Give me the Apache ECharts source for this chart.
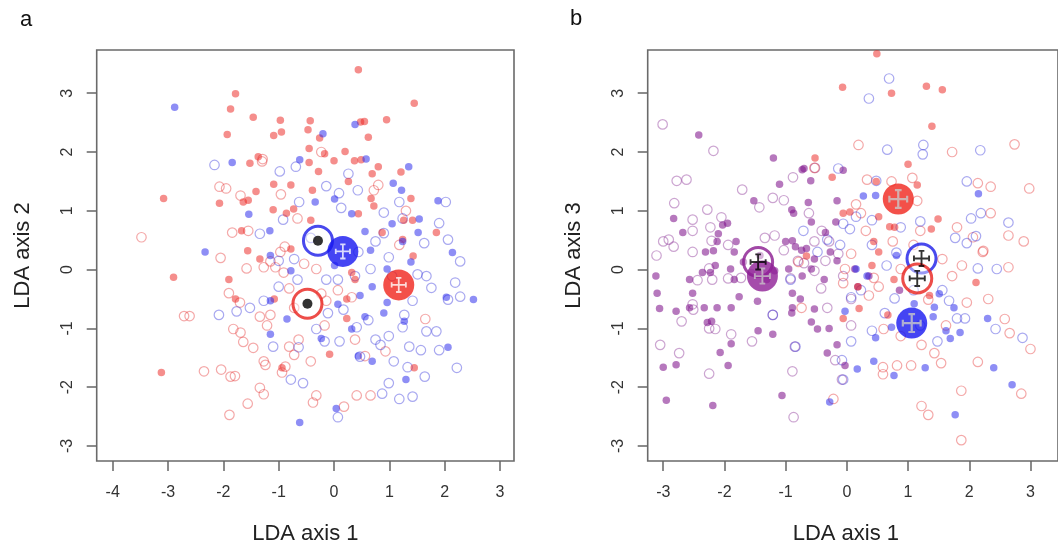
<!DOCTYPE html>
<html>
<head>
<meta charset="utf-8">
<script src="https://cdn.jsdelivr.net/npm/echarts@6/dist/echarts.min.js"></script>
<style>
html,body{margin:0;padding:0;background:#fff;}
#chart{width:1058px;height:550px;}
</style>
</head>
<body>
<div id="chart"></div>
<script>
// ---------- tick labels ----------
var aXTicks = [-4, -3, -2, -1, 0, 1, 2, 3];
var bXTicks = [-3, -2, -1, 0, 1, 2, 3];
var yTicks = [-3, -2, -1, 0, 1, 2, 3];

// ---------- panel a (LDA axis 1 vs LDA axis 2) ----------
var aRedFilled = [[0.44,3.40],[-1.78,2.99],[1.45,2.83],[-1.87,2.73],[-1.46,2.59],[-0.97,2.54],[-0.43,2.53],[0.48,2.51],[0.55,2.52],[0.95,2.55],[-1.93,2.30],[-1.09,2.28],[-0.95,2.34],[-0.47,2.38],[-0.26,2.24],[0.62,2.25],[-0.45,2.06],[0.20,2.01],[-1.37,1.92],[-0.17,1.97],[0.00,1.85],[0.37,1.85],[0.49,1.87],[-1.52,1.81],[-0.45,1.82],[0.80,1.75],[-0.28,1.67],[0.69,1.63],[1.21,1.66],[0.26,1.50],[-1.09,1.45],[-0.78,1.44],[-1.41,1.33],[-0.39,1.35],[-3.08,1.21],[-2.07,1.13],[-1.55,1.18],[-1.64,1.15],[0.67,1.21],[1.39,1.21],[-1.10,1.02],[-0.86,0.96],[-0.73,1.03],[0.44,0.95],[0.72,1.08],[-0.42,0.84],[1.26,0.84],[1.42,0.84],[-1.67,0.66],[1.85,0.63],[0.87,0.63],[-1.56,0.32],[-0.78,0.35],[1.24,0.51],[1.43,0.23],[-1.34,0.18],[0.32,-0.05],[-2.90,-0.13],[-1.90,-0.17],[0.38,-0.17],[-1.78,-0.50],[-1.08,-0.50],[0.23,-0.83],[0.23,-0.50],[-3.12,-1.75],[1.45,-1.67],[-0.94,-1.67],[-0.08,-1.44]];
var aRedOpen = [[-3.48,0.55],[-2.71,-0.79],[-2.61,-0.79],[-2.35,-1.73],[-2.04,-1.70],[-1.87,-1.82],[-1.79,-1.81],[-1.89,-2.47],[-1.56,-2.28],[-1.34,-2.01],[-1.27,-2.12],[-2.07,1.41],[-1.95,1.38],[-1.84,0.63],[-1.55,0.66],[-2.05,0.20],[-1.69,1.26],[-1.29,1.88],[-0.96,1.28],[-0.66,0.87],[-0.23,2.00],[-1.58,0.02],[-1.27,0.04],[-1.15,0.14],[-0.97,0.30],[-0.89,0.39],[-1.06,0.04],[-0.91,-0.05],[-0.54,0.10],[-0.32,0.01],[-1.90,-0.40],[-1.70,-0.56],[-1.34,-0.80],[-1.21,-0.95],[-1.82,-1.01],[-1.69,-1.07],[-1.64,-1.23],[-1.46,-1.33],[-1.27,-1.56],[-1.24,-1.62],[-0.94,-1.75],[-0.88,-1.65],[-0.81,-1.31],[-0.72,-1.45],[-0.64,-1.19],[-0.42,-1.56],[-0.32,-2.14],[-0.38,-2.26],[0.18,-2.33],[0.41,-2.14],[0.66,-2.14],[0.93,-1.39],[0.38,-1.19],[-0.23,-0.41],[-0.14,-0.53],[0.07,-0.35],[0.32,-0.47],[0.56,-1.47],[1.65,-0.84],[1.30,1.00],[0.80,1.44],[-1.30,1.84],[-1.15,-0.77],[1.18,0.42],[0.72,1.35],[-0.81,-0.32],[-0.72,-0.65],[-0.17,-0.95]];
var aBlueFilled = [[-2.88,2.76],[-0.20,2.31],[0.38,2.47],[-1.84,1.82],[-0.62,1.87],[0.58,1.88],[1.35,1.75],[1.07,1.47],[1.22,1.35],[1.88,1.17],[-0.34,1.15],[0.01,1.20],[-1.54,0.94],[0.32,0.95],[1.54,0.86],[-1.16,0.66],[0.56,0.65],[1.05,0.78],[1.52,0.63],[-2.33,0.30],[-1.15,0.24],[0.66,0.33],[1.24,0.48],[2.14,0.29],[1.39,0.13],[-0.78,-0.02],[0.01,0.07],[0.96,0.01],[0.69,-0.29],[0.96,-0.56],[2.52,-0.51],[-1.15,-0.53],[0.07,-0.59],[0.47,-0.44],[-0.85,-0.84],[0.32,-1.01],[-1.15,-1.10],[-0.23,-1.17],[0.69,-1.56],[1.27,-0.88],[2.06,-1.32],[1.30,-1.87],[0.04,-2.36],[-0.62,-2.60],[0.44,-1.47],[0.56,-0.80],[0.90,-0.74],[2.03,-0.47]];
var aBlueOpen = [[-2.16,1.78],[-0.98,1.67],[-0.69,1.75],[-0.14,1.42],[0.26,1.63],[0.43,1.35],[0.09,1.30],[-0.63,1.15],[0.13,1.05],[-0.92,0.85],[0.90,0.97],[1.18,1.15],[2.02,1.15],[1.90,0.79],[2.06,0.51],[2.28,0.14],[1.63,0.45],[-1.34,0.61],[-1.00,0.15],[-0.72,0.18],[0.75,0.48],[0.44,0.30],[0.99,0.21],[1.67,-0.11],[1.76,-0.31],[2.19,-0.22],[2.28,-0.46],[2.06,-0.51],[1.85,-1.05],[1.67,-1.05],[1.42,-0.53],[1.27,-0.77],[1.24,-0.98],[0.99,-1.13],[0.84,-1.28],[1.08,-1.56],[1.36,-1.31],[1.33,-1.66],[1.64,-1.82],[2.22,-1.67],[1.42,-2.16],[1.18,-2.20],[0.99,-1.93],[0.87,-2.11],[0.07,-2.51],[-0.56,-1.93],[-0.78,-1.87],[-0.64,-1.32],[-1.10,-1.31],[0.10,-1.22],[-0.17,-1.22],[-0.32,-1.01],[0.41,-0.98],[0.62,-0.86],[0.75,-1.19],[0.47,-1.48],[-1.76,-0.71],[-2.08,-0.77],[-1.52,-0.65],[-1.27,-0.53],[-1.00,-0.29],[-0.66,-0.17],[-0.14,-0.17],[0.07,-0.17],[0.38,-0.11],[0.66,0.01],[1.05,-0.11],[1.51,-0.08],[-0.11,-0.74],[0.17,-0.68],[1.57,-1.37],[1.90,-1.37],[1.24,0.87],[0.90,0.62],[-0.42,0.54]];
var aBlueRing = [[-0.29,0.49]];
var aRedRing = [[-0.48,-0.58]];
var aBlueMean = [[0.16,0.31]];
var aRedMean = [[1.17,-0.26]];

// ---------- panel b (LDA axis 1 vs LDA axis 3) ----------
var bPurpleFilled = [[-2.42,2.29],[-1.20,1.90],[-0.70,1.72],[-0.73,1.70],[-0.59,1.51],[-1.10,1.45],[-0.63,1.14],[-0.06,1.69],[-0.16,1.17],[-0.90,1.02],[-0.87,0.96],[-2.83,0.87],[-2.68,0.63],[-2.03,0.76],[-1.95,0.79],[-2.10,0.61],[-2.12,0.48],[-2.31,0.30],[-2.18,0.32],[-1.81,0.48],[-1.84,0.30],[-1.90,0.01],[-1.84,-0.17],[-2.15,0.07],[-2.23,-0.05],[-2.36,-0.05],[-2.57,-0.17],[-2.52,-0.40],[-3.12,-0.11],[-3.10,-0.40],[-3.06,-0.66],[-2.79,-0.71],[-2.57,-0.65],[-2.33,-0.65],[-2.12,-0.65],[-1.89,-0.65],[-2.28,-0.90],[-2.21,-0.88],[-1.89,-1.26],[-2.07,-1.41],[-1.94,-1.63],[-2.79,-1.62],[-3.00,-1.66],[-2.95,-2.22],[-2.19,-2.31],[-1.06,-2.14],[-1.21,-1.10],[-1.45,-1.04],[-1.76,-0.46],[-1.46,-0.54],[-1.31,-0.17],[-1.18,-0.02],[-0.95,0.01],[-0.89,-0.40],[-0.89,-0.65],[-0.90,-0.74],[-0.76,-0.50],[-0.73,-0.11],[-0.58,0.01],[-0.53,0.18],[-0.66,0.36],[-0.84,0.39],[-0.74,0.33],[-1.00,0.48],[-0.89,0.49],[-0.58,0.81],[-0.35,0.63],[-0.18,0.81],[-0.27,0.30],[-0.16,0.15],[-0.37,-0.17],[-0.53,-0.67],[-0.58,-0.89],[-0.48,-1.01],[-0.29,-1.00],[-0.03,-1.63],[-0.16,-1.28],[-0.32,-1.42],[0.13,0.01],[0.18,-0.29],[0.86,-0.35],[0.36,-0.11],[-1.52,1.17],[-1.69,0.13],[-1.56,-0.05],[-1.42,0.24]];
var bPurpleOpen = [[-3.01,2.47],[-2.18,2.02],[-2.78,1.51],[-2.62,1.53],[-2.82,1.13],[-1.71,1.36],[-1.43,1.06],[-1.21,1.22],[-1.03,1.18],[-0.88,1.57],[-0.52,1.73],[-0.62,0.96],[-0.41,0.66],[-2.52,0.85],[-2.28,1.02],[-2.05,0.89],[-2.91,0.51],[-2.83,0.39],[-3.00,0.48],[-3.11,0.24],[-2.52,0.66],[-2.52,0.30],[-2.23,0.72],[-2.21,0.49],[-2.25,0.02],[-2.20,-0.17],[-2.44,-0.18],[-2.52,-0.59],[-2.51,-0.68],[-2.70,-0.88],[-2.25,-1.00],[-2.15,-1.01],[-1.89,-1.10],[-2.74,-1.42],[-3.05,-1.28],[-2.25,-1.77],[-1.55,-1.22],[-1.21,-0.77],[-0.92,-0.15],[-0.85,-1.31],[-0.89,-1.73],[-0.87,-2.51],[-0.08,-1.87],[-0.19,-1.54],[-0.80,0.15],[-0.70,0.11],[-1.03,0.33],[-1.94,-0.15],[-1.73,-0.14],[-1.94,0.42],[-1.34,0.54],[-1.18,0.58],[-0.42,-0.32],[-0.53,-0.02],[-0.35,0.15],[-0.06,-0.11],[0.07,-0.50],[0.07,-0.95],[-0.32,-0.65],[-0.53,0.48],[-0.14,0.27],[-0.29,0.48]];
var bRedFilled = [[0.49,3.67],[-0.07,3.10],[0.73,3.00],[1.30,3.12],[1.56,3.06],[1.39,2.44],[1.00,1.79],[1.15,1.44],[-0.24,1.57],[-0.52,1.90],[-0.06,0.96],[0.52,0.90],[1.49,0.86],[1.38,0.69],[0.70,0.73],[0.78,0.72],[0.44,0.48],[0.52,0.30],[0.41,0.07],[0.77,-0.17],[0.18,-0.29],[0.20,-0.66],[-0.06,-0.83],[0.67,-0.77],[2.11,-0.22],[1.35,-0.44],[-0.66,0.23],[0.05,0.98],[0.48,1.50]];
var bRedOpen = [[0.19,2.12],[1.72,2.00],[2.74,2.13],[2.98,1.38],[2.64,0.58],[2.89,0.48],[2.35,0.96],[2.22,0.30],[2.06,0.55],[2.64,0.04],[2.31,-0.50],[2.58,-0.84],[2.66,-1.08],[3.00,-1.35],[2.85,-2.11],[1.87,-2.06],[1.87,-2.90],[1.22,-2.32],[1.33,-2.47],[1.05,-1.63],[0.82,-1.63],[0.59,-1.66],[0.59,-1.78],[1.54,-1.59],[1.43,-1.42],[1.22,-1.28],[0.88,-1.13],[0.60,-1.01],[1.33,-0.51],[1.56,0.18],[1.09,0.42],[1.20,0.66],[1.15,1.17],[1.07,1.56],[0.33,1.53],[0.73,1.50],[0.15,1.11],[0.23,0.96],[0.31,0.66],[0.07,0.27],[-0.03,0.01],[-0.06,-0.23],[0.44,-0.14],[0.52,-0.29],[0.36,-0.44],[0.75,0.48],[0.88,0.01],[1.72,-0.11],[1.88,0.07],[1.96,-0.56],[1.62,-0.95],[2.14,-1.57],[2.23,0.32],[1.80,0.72],[2.35,1.41],[2.14,1.47],[-0.53,1.73],[-0.79,0.13],[-0.74,-0.65],[-0.22,-2.20]];
var bBlueFilled = [[0.27,1.25],[0.47,1.26],[2.15,1.29],[0.81,0.24],[0.33,-0.11],[-0.03,-0.71],[0.73,-0.98],[0.47,-1.16],[0.44,-1.56],[0.17,-1.69],[0.77,-1.80],[1.28,-1.67],[1.69,-1.17],[1.85,-1.07],[1.75,-0.65],[1.43,-0.64],[1.41,-0.80],[1.62,-1.04],[2.30,-0.83],[2.40,-1.67],[2.70,-1.96],[1.77,-2.47],[-0.28,-2.25],[1.10,-0.58],[1.51,-0.41],[0.15,0.01]];
var bBlueOpen = [[0.69,3.25],[0.36,2.91],[1.25,2.12],[1.24,1.96],[0.66,2.04],[2.18,2.03],[-0.14,1.72],[0.48,1.51],[1.96,1.50],[2.19,0.96],[2.03,0.87],[2.64,0.80],[1.77,0.54],[1.96,0.45],[2.11,0.57],[2.45,0.01],[2.14,0.02],[1.56,-0.35],[1.67,-0.53],[1.80,-0.83],[1.93,-0.83],[2.43,-1.01],[2.87,-1.16],[1.48,-1.22],[1.20,-0.95],[0.62,-0.74],[0.41,-1.04],[-0.06,-1.87],[-0.08,-1.54],[0.07,-1.22],[-0.06,0.78],[0.05,0.69],[0.15,0.90],[0.41,0.84],[1.20,0.82],[-0.11,0.42],[-0.32,0.51],[-0.48,0.30],[0.65,0.07],[0.81,0.29],[0.78,-0.49],[1.09,-0.35],[0.07,-0.47],[0.23,-0.35],[-0.92,-0.17],[-0.71,0.66],[-1.21,-0.77],[-0.84,-1.31],[0.41,0.42],[0.88,0.72]];
var bPurpleRing = [[-1.45,0.13]];
var bBlueRing = [[1.22,0.19]];
var bRedRing = [[1.15,-0.15]];
var bPurpleMean = [[-1.38,-0.11]];
var bRedMean = [[0.84,1.20]];
var bBlueMean = [[1.06,-0.91]];

// ---------- styling helpers ----------
var CROSS = 'path://M7,1H13V3H11V9H17V7H19V13H17V11H11V17H13V19H7V17H9V11H3V13H1V7H3V9H9V3H7Z';
var FONT = 'Liberation Sans, Arial, sans-serif';
var RED = 'rgba(236,40,36,0.66)', BLUE = 'rgba(40,40,236,0.66)', PURPLE = 'rgba(128,20,140,0.72)';
var RED_O = 'rgba(230,60,60,0.55)', BLUE_O = 'rgba(60,60,220,0.55)', PURPLE_O = 'rgba(140,50,150,0.55)';

function filled(data, color, xi) {
  return {type:'scatter', xAxisIndex:xi, yAxisIndex:xi, data:data, symbol:'circle', symbolSize:7.5,
    itemStyle:{color:color}, silent:true, z:3};
}
function open(data, color, xi) {
  return {type:'scatter', xAxisIndex:xi, yAxisIndex:xi, data:data, symbol:'circle', symbolSize:9.5,
    itemStyle:{color:'rgba(0,0,0,0)', borderColor:color, borderWidth:1.2}, silent:true, z:2};
}
function ring(data, color, xi) {
  return {type:'scatter', xAxisIndex:xi, yAxisIndex:xi, data:data, symbol:'circle', symbolSize:29,
    itemStyle:{color:'rgba(255,255,255,0.55)', borderColor:color, borderWidth:3}, silent:true, z:5};
}
function mean(data, color, xi) {
  return {type:'scatter', xAxisIndex:xi, yAxisIndex:xi, data:data, symbol:'circle', symbolSize:31,
    itemStyle:{color:color}, silent:true, z:6};
}
function mark(data, symbol, size, color, xi) {
  return {type:'scatter', xAxisIndex:xi, yAxisIndex:xi, data:data, symbol:symbol, symbolSize:size,
    itemStyle:{color:color}, silent:true, z:7};
}

function xAxisDef(gi, min, max, ticks, name, namePad) {
  return {type:'value', gridIndex:gi, min:min, max:max, position:'bottom',
    name:name, nameLocation:'middle', nameGap:62,
    nameTextStyle:{fontSize:22, color:'#222', fontFamily:FONT, padding:namePad},
    axisLine:{show:false, onZero:false}, splitLine:{show:false},
    axisTick:{show:true, inside:false, length:10, customValues:ticks, lineStyle:{color:'#666', width:1.5}},
    axisLabel:{show:true, customValues:ticks, margin:24, fontSize:16, color:'#333', fontFamily:FONT}
  };
}
function yAxisDef(gi, min, max, ticks, name) {
  return {type:'value', gridIndex:gi, min:min, max:max, position:'left',
    name:name, nameLocation:'middle', nameGap:63,
    nameTextStyle:{fontSize:22, color:'#222', fontFamily:FONT},
    axisLine:{show:false, onZero:false}, splitLine:{show:false},
    axisTick:{show:true, inside:false, length:10, customValues:ticks, lineStyle:{color:'#666', width:1.5}},
    axisLabel:{show:true, customValues:ticks, rotate:90, margin:21, fontSize:16, color:'#333', fontFamily:FONT}
  };
}

var option = {
  backgroundColor:'#ffffff',
  animation:false,
  title:[
    {text:'a', left:20, top:9, padding:0, textStyle:{fontSize:22, fontWeight:'normal', color:'#111', fontFamily:FONT}},
    {text:'b', left:570, top:8, padding:0, textStyle:{fontSize:22, fontWeight:'normal', color:'#111', fontFamily:FONT}}
  ],
  grid:[
    {left:96.7, top:50, width:417.3, height:411.7, show:true, borderColor:'#6a6a6a', borderWidth:1.6, backgroundColor:'rgba(0,0,0,0)'},
    {left:647.7, top:50, width:431.2, height:411.7, show:true, borderColor:'#6a6a6a', borderWidth:1.6, backgroundColor:'rgba(0,0,0,0)'}
  ],
  xAxis:[
    xAxisDef(0, -4.289, 3.253, aXTicks, 'LDA axis 1', [0,0,0,0]),
    xAxisDef(1, -3.254, 3.45, bXTicks, 'LDA axis 1', [0,14,0,0])
  ],
  yAxis:[
    yAxisDef(0, -3.255, 3.735, yTicks, 'LDA axis 2'),
    yAxisDef(1, -3.255, 3.735, yTicks, 'LDA axis 3')
  ],
  series:[
    open(aRedOpen, RED_O, 0),
    open(aBlueOpen, BLUE_O, 0),
    filled(aRedFilled, RED, 0),
    filled(aBlueFilled, BLUE, 0),
    ring(aBlueRing, '#1c1ce8', 0),
    ring(aRedRing, '#e8201c', 0),
    mark(aBlueRing, 'circle', 10, '#000', 0),
    mark(aRedRing, 'circle', 10, '#000', 0),
    mean(aBlueMean, '#1616f0', 0),
    mean(aRedMean, '#f0241c', 0),
    mark(aBlueMean, CROSS, 16, '#ffffff', 0),
    mark(aRedMean, CROSS, 16, '#ffffff', 0),

    open(bPurpleOpen, PURPLE_O, 1),
    open(bRedOpen, RED_O, 1),
    open(bBlueOpen, BLUE_O, 1),
    filled(bPurpleFilled, PURPLE, 1),
    filled(bRedFilled, RED, 1),
    filled(bBlueFilled, BLUE, 1),
    ring(bPurpleRing, '#8a1a90', 1),
    mean(bPurpleMean, '#8e1f96', 1),
    mark(bPurpleMean, CROSS, 17, '#c8c0c8', 1),
    mark(bPurpleRing, CROSS, 17, '#000', 1),
    mean(bRedMean, '#f0241c', 1),
    mark(bRedMean, CROSS, 20, '#c8c8c8', 1),
    mean(bBlueMean, '#1616f0', 1),
    mark(bBlueMean, CROSS, 20, '#c8c8c8', 1),
    ring(bBlueRing, '#1c1ce8', 1),
    ring(bRedRing, '#e8201c', 1),
    mark(bBlueRing, CROSS, 17, '#000', 1),
    mark(bRedRing, CROSS, 17, '#000', 1)
  ]
};

var chart = echarts.init(document.getElementById('chart'), null, {renderer:'canvas'});
chart.setOption(option);
</script>
</body>
</html>
